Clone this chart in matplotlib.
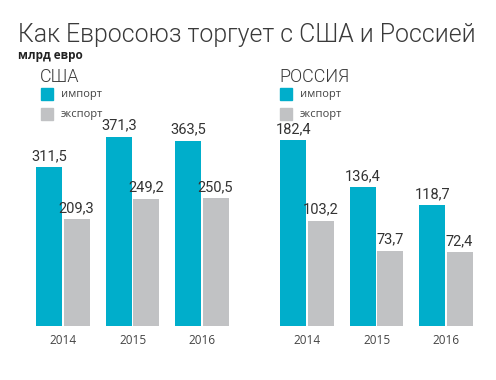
import matplotlib
matplotlib.use("Agg")
import matplotlib.pyplot as plt
import numpy as np
from matplotlib.patches import Rectangle

years = ["2014", "2015", "2016"]
usa_import = [311.5, 371.3, 363.5]
usa_export = [209.3, 249.2, 250.5]
rus_import = [182.4, 136.4, 118.7]
rus_export = [103.2, 73.7, 72.4]
legend_labels = ["импорт", "экспорт"]

C_IMP = "#00AECB"
C_EXP = "#C1C2C4"
TXT = "#333333"

plt.rcParams['font.family'] = ['Open Sans', 'DejaVu Sans']
LIGHT = ['Roboto', 'Open Sans', 'DejaVu Sans']
NARROW = ['Roboto', 'DejaVu Sans']

fig = plt.figure(figsize=(4.96, 3.80), dpi=100)

fig.text(18/496, 1-35/380, "Как Евросоюз торгует с США и Россией", fontsize=17.9,
         fontweight=300, family=LIGHT, color="#3a3a3a", va='center', ha='left')
fig.text(18/496, 1-56/380, "млрд евро", fontsize=8.5, fontweight='bold', color="#222222",
         va='center', ha='left')

def panel(left, imp, exp, ymax):
    ax = fig.add_axes([left, 1-326/380, 222.4/496, 266/380])
    x = np.arange(len(years))
    w = 0.374
    off = 0.196
    b1 = ax.bar(x-off, imp, w, color=C_IMP)
    b2 = ax.bar(x+off, exp, w, color=C_EXP)
    for bars, vals in ((b1, imp), (b2, exp)):
        for r, v in zip(bars, vals):
            ax.annotate(f"{v:.1f}".replace(".", ","), (r.get_x()+r.get_width()/2, v),
                        xytext=(0, 3), textcoords='offset points', ha='center', va='bottom',
                        fontsize=10.5, family=NARROW, color=TXT)
    ax.set_xlim(-0.6, 2.6)
    ax.set_ylim(0, ymax)
    ax.set_xticks(x)
    ax.set_xticklabels(years, fontsize=8.5, color="#444444")
    ax.tick_params(length=0, pad=6)
    ax.set_yticks([])
    for s in ax.spines.values():
        s.set_visible(False)
    return ax

panel(21.3/496, usa_import, usa_export, 521.6)
panel(265.3/496, rus_import, rus_export, 261.0)

for lx, name in ((40, "США"), (279, "РОССИЯ")):
    fig.text(lx/496, 1-77/380, name, fontsize=13, fontweight=300, family=LIGHT,
             color="#3a3a3a", va='center', ha='left')
    for i, (lab, c) in enumerate(zip(legend_labels, [C_IMP, C_EXP])):
        yc = 94 + i*20
        fig.patches.append(Rectangle(((lx+1)/496, 1-(yc+6)/380), 12/496, 12/380,
                                     transform=fig.transFigure, color=c))
        fig.text((lx+21)/496, 1-yc/380, lab, fontsize=8, color="#444444",
                 va='center', ha='left')

fig.savefig("out.png", dpi=100)
